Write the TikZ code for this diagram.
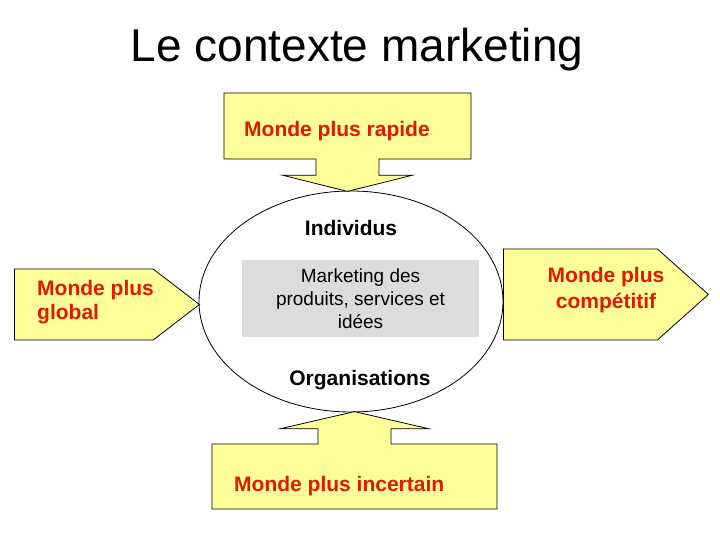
\documentclass[tikz,border=0pt]{standalone}
\usepackage{fontspec}
\setmainfont{Liberation Sans}
\usetikzlibrary{shapes.symbols,shapes.arrows,shapes.geometric,positioning}
\definecolor{paleyellow}{RGB}{255,255,153}
\definecolor{boxgray}{RGB}{220,220,220}
\definecolor{labelred}{RGB}{225,25,0}

\begin{document}
\begin{tikzpicture}[
  x=1pt,y=-1pt,
  force/.style={draw,fill=paleyellow,line width=0.8pt,inner sep=0pt},
  forcetext/.style={text=labelred,font=\fontsize{21}{25}\selectfont\bfseries,align=left,inner sep=0pt},
  actor/.style={font=\fontsize{21}{25}\selectfont\bfseries,inner sep=0pt,anchor=base}
]
  \useasboundingbox (0,0) rectangle (720,540);
  \node[inner sep=0pt,anchor=base,font=\fontsize{46}{50}\selectfont] (title) at (357,62) {Le contexte marketing};

  % the market in the middle
  \node[ellipse,draw,fill=white,line width=0.8pt,minimum width=304pt,minimum height=221pt,
    inner sep=0pt] (context) at (351,301.5) {};
  \node[fill=boxgray,minimum width=237pt,minimum height=77pt,inner sep=0pt] (offer) at (360.5,298.5) {};
  \node[inner sep=0pt,anchor=base,align=center,font=\fontsize{19}{23}\selectfont]
    (offertext) at (360.5,328) {Marketing des\\produits, services et\\idées};
  \node[actor] (people) at (351,236) {Individus};
  \node[actor] (orgs) at (360,385.5) {Organisations};

  % forces around it
  \node[force,arrow box,arrow box arrows={south:32pt},arrow box tip angle=152,
    arrow box head extend=33.5pt,arrow box head indent=0pt,arrow box shaft width=63pt,
    minimum width=247pt,minimum height=66pt] (fast) at (347.5,126) {};
  \node[force,arrow box,arrow box arrows={north:32pt},arrow box tip angle=154,
    arrow box head extend=38pt,arrow box head indent=0pt,arrow box shaft width=73pt,
    minimum width=285pt,minimum height=65pt] (uncertain) at (354.5,476.5) {};
  \node[force,signal,signal to=east,signal from=nowhere,signal pointer angle=75,
    minimum width=185pt,minimum height=71pt,anchor=west] (global) at (14,304.5) {};
  \node[force,signal,signal to=east,signal from=nowhere,signal pointer angle=83.5,
    minimum width=205pt,minimum height=91pt,anchor=west] (compet) at (503,294.5) {};

  \node[forcetext,anchor=base west] (fasttext) at (244,137) {Monde plus rapide};
  \node[forcetext,anchor=base west] (uncertaintext) at (234,491) {Monde plus incertain};
  \node[forcetext,anchor=base west,font=\fontsize{21}{24}\selectfont\bfseries]
    (globaltext) at (37,319) {Monde plus\\global};
  \node[forcetext,align=center,anchor=base,font=\fontsize{21}{26}\selectfont\bfseries]
    (compettext) at (606,308) {Monde plus\\compétitif};
\end{tikzpicture}
\end{document}
